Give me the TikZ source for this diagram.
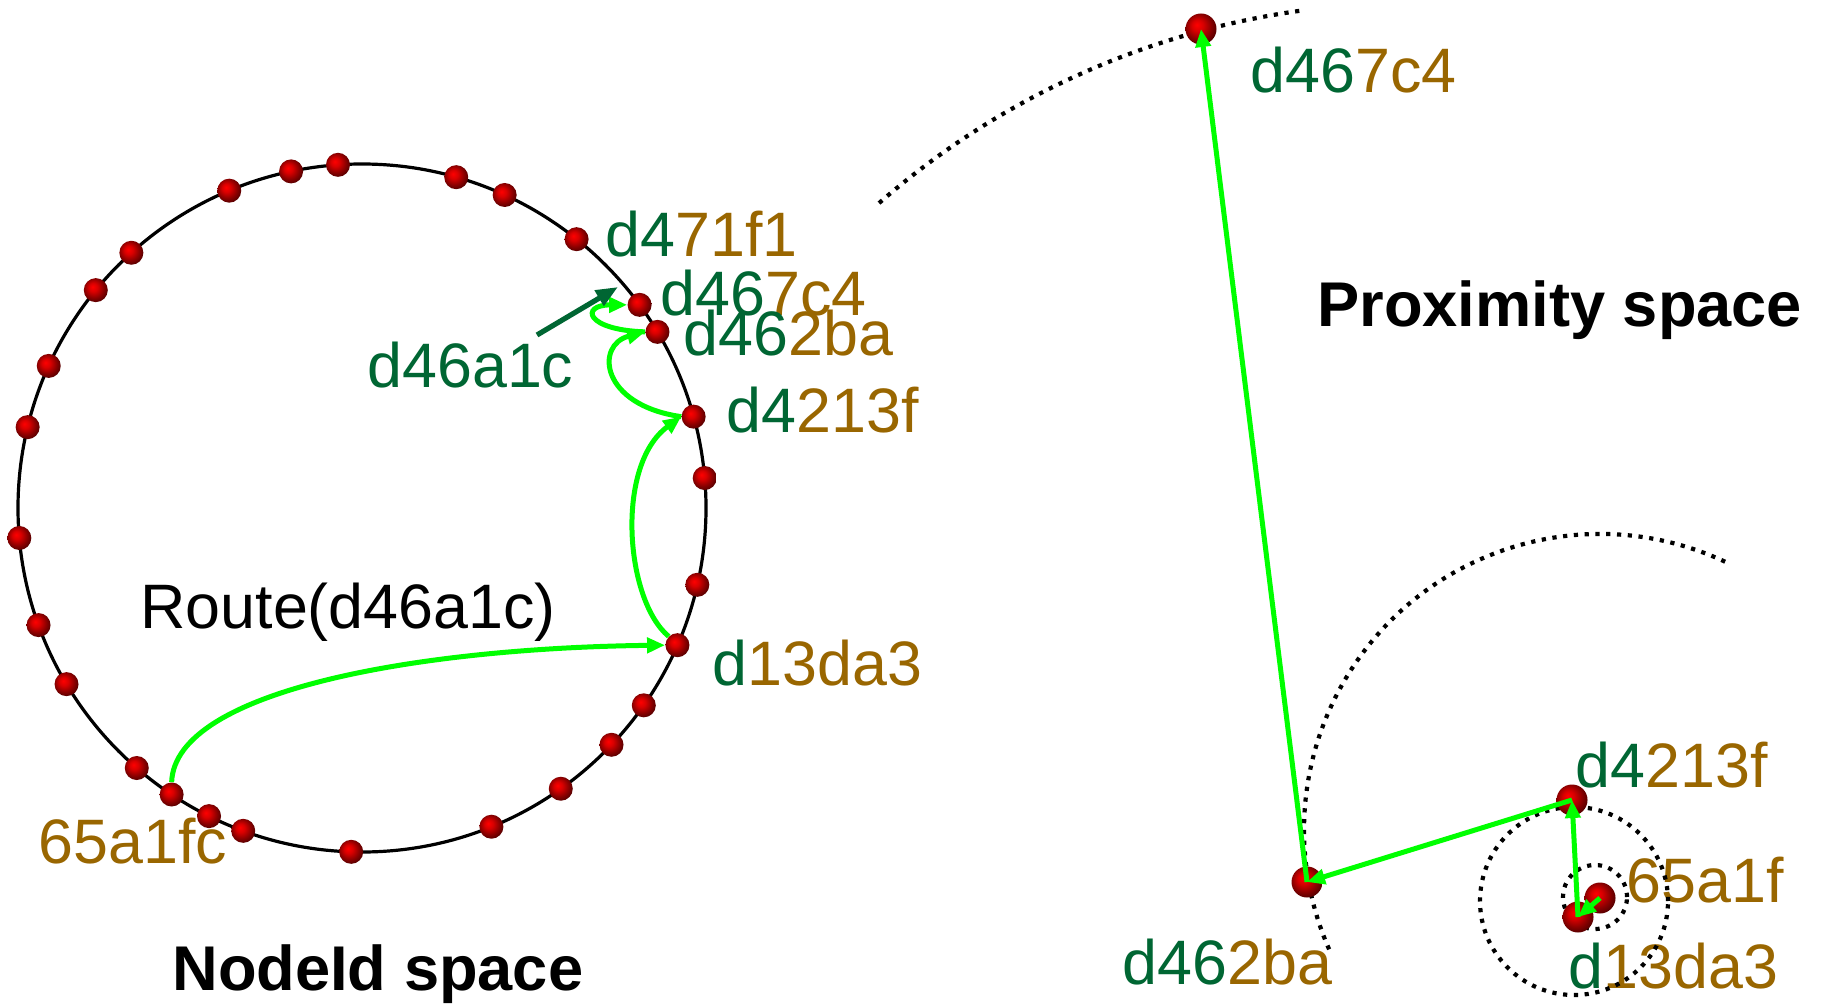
\documentclass[tikz,border=0pt]{standalone}
\usepackage{fontspec}
\setmainfont{Liberation Sans}
\usetikzlibrary{arrows.meta,calc}
\definecolor{dg}{RGB}{0,102,51}
\definecolor{br}{RGB}{153,102,0}
\definecolor{lg}{RGB}{0,255,0}
\pgfdeclareradialshading{sph}{\pgfpoint{-7bp}{7bp}}{color(0bp)=(red); color(9bp)=(red!85!black); color(20bp)=(red!55!black); color(30bp)=(red!30!black); color(50bp)=(black)}
\tikzset{
  ballL/.style={circle, inner sep=0pt, minimum size=12pt, shade, shading=sph},
  ballR/.style={circle, inner sep=0pt, minimum size=15.5pt, shade, shading=sph},
  lbl/.style={anchor=base west, inner sep=0pt, font=\fontsize{31.4pt}{36pt}\selectfont},
  lblb/.style={lbl, font=\fontsize{31.6pt}{36pt}\selectfont\bfseries},
  gline/.style={draw=lg, line width=2.5pt, -{Triangle[length=9pt,width=7.5pt]}},
  dkarrow/.style={draw=dg, line width=2.6pt, -{Triangle[length=11pt,width=8.5pt]}},
  ring/.style={draw=black, line width=1.6pt},
  dotc/.style={draw=black, line width=2.1pt, dash pattern=on 2.1pt off 3.3pt},
}
\begin{document}
\begin{tikzpicture}[x=0.5pt, y=-0.5pt]
\useasboundingbox (0,0) rectangle (1823,1005);

% ---------- NodeId space ----------
\coordinate (C) at (362,508);
\draw[ring] (C) circle (172pt);

\node[lbl] (route) at (140,628) {Route(d46a1c)};
\node[lblb] (ns) at (172,990) {NodeId space};
\node[lbl] (l71) at (605,257) {\textcolor{dg}{d4}\textcolor{br}{71f1}};
\node[lbl] (l67) at (660,315) {\textcolor{dg}{d46}\textcolor{br}{7c4}};
\node[lbl] (l62) at (683,355) {\textcolor{dg}{d46}\textcolor{br}{2ba}};
\node[lbl] (l42) at (726,432) {\textcolor{dg}{d4}\textcolor{br}{213f}};
\node[lbl] (l13) at (712,685) {\textcolor{dg}{d}\textcolor{br}{13da3}};
\node[lbl] (l65) at (38,863) {\textcolor{br}{65a1fc}};
\node[lbl, text=dg] (src) at (367,387) {d46a1c};

\foreach \a/\n in {94/p1, 101.9/p2, 112.7/p3, 132.1/p4, 140.7/p5, 155.6/p6,
  166.4/p7, 185.0/p8, 199.9/p9, 210.8/p10, 229.1/p11, 236.4/n65, 243.6/p13,
  249.8/p14, 268.2/p15, 292.1/p16, 305.3/p17, 316.5/p18, 325.0/p19,
  336.5/n13, 347.1/p21, 5.0/p22, 15.4/n42, 30.8/n62, 36.2/n67, 51.4/n71,
  65.5/p27, 74.1/p28}
  \node[ballL] (\n) at ($(C)+(\a:172pt)$) {};

\draw[gline] (n65.north) .. controls (175,690) and (420,648) .. (n13.west);
\draw[gline] (n13.north west) .. controls (625,600) and (615,465) .. (n42.west);
\draw[gline] (n42.west) .. controls (600,405) and (595,345) .. (n62.west);
\draw[gline] (n62.west) .. controls (585,330) and (580,305) .. (n67.west);

\coordinate (sa) at (537,335);
\coordinate (sb) at (618,287);
\draw[dkarrow] (sa) -- (sb);

% ---------- Proximity space ----------
\node[lblb] (ps) at (1317,327) {Proximity space};
\node[lbl] (r67l) at (1250,93) {\textcolor{dg}{d46}\textcolor{br}{7c4}};
\node[lbl] (r62l) at (1122,984) {\textcolor{dg}{d46}\textcolor{br}{2ba}};
\node[lbl] (r42l) at (1575,787) {\textcolor{dg}{d4}\textcolor{br}{213f}};
\node[lbl] (r65l) at (1626,902) {\textcolor{br}{65a1f}};
\node[lbl] (r13l) at (1568,988) {\textcolor{dg}{d}\textcolor{br}{13da3}};

\coordinate (T) at (1412,813);
\draw[dotc] ($(T)+(98:405pt)$) arc[start angle=98, end angle=131.5, radius=405pt];
\coordinate (B) at (1600,830);
\draw[dotc] ($(B)+(65:148pt)$) arc[start angle=65, end angle=204, radius=148pt];
\coordinate (M) at (1574,901);
\draw[dotc] (M) circle (47pt);
\coordinate (S) at (1595,897);
\draw[dotc] (S) circle (16pt);

\node[ballR] (r67) at (1201,29) {};
\node[ballR] (r62) at (1307,882) {};
\node[ballR] (r42) at (1572,800) {};
\node[ballR] (r65) at (1600,898) {};
\node[ballR] (r13) at (1578,917) {};

\draw[gline] (r65.center) -- (r13.center);
\draw[gline] (r13.center) -- (r42.center);
\draw[gline] (r42.center) -- (r62.center);
\draw[gline] (r62.center) -- (r67.center);
\end{tikzpicture}
\end{document}
